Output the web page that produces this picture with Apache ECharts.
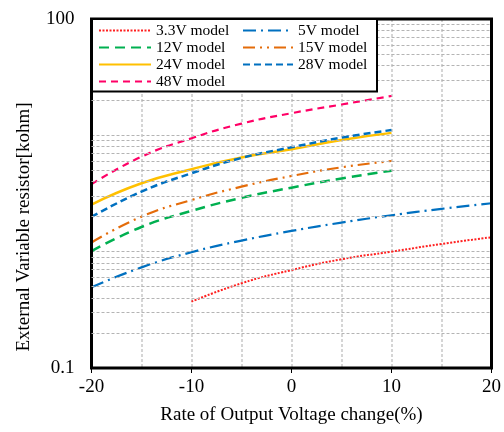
<!DOCTYPE html>
<html>
<head>
<meta charset="utf-8">
<script src="https://cdn.jsdelivr.net/npm/echarts@6/dist/echarts.min.js"></script>
<style>html,body{margin:0;padding:0;background:#fff}#c{width:504px;height:432px}</style>
</head>
<body>
<div id="c"></div>
<script>
// ---- data ----
const xFull = [-20, -15, -10, -5, 0, 5, 10];
const xWide = [-20, -15, -10, -5, 0, 5, 10, 15, 20];
const x33 = [-10, -5, 0, 5, 10, 15, 20];
const v33 = [0.372, 0.535, 0.695, 0.860, 1.0, 1.165, 1.33];
const v5 = [0.494, 0.733, 0.989, 1.245, 1.507, 1.778, 2.056, 2.333, 2.606];
const v12 = [1.01, 1.63, 2.24, 2.90, 3.55, 4.25, 4.97];
const v15 = [1.20, 2.0, 2.78, 3.62, 4.47, 5.31, 6.02];
const v24 = [2.54, 3.87, 5.11, 6.45, 7.59, 9.12, 10.5];
const v28 = [1.99, 3.28, 4.72, 6.39, 7.89, 9.55, 11.1];
const v48 = [3.80, 6.55, 9.44, 12.6, 15.5, 18.4, 21.8];
const legendCol1 = ['3.3V model','12V model','24V model','48V model'];
const legendCol2 = ['5V model','15V model','28V model'];
const xTicks = [-20, -10, 0, 10, 20];
const yTickLabels = [0.1, 100];
const minorGrid = [0.2,0.3,0.4,0.5,0.6,0.7,0.8,0.9,2,3,4,5,6,7,8,9,20,30,40,50,60,70,80,90];

const pair = (xs, ys) => xs.map((x, i) => [x, ys[i]]);
const FONT = "'Liberation Serif','Times New Roman',serif";

function lineSeries(name, data, color, type, width) {
  return {
    name, type: 'line', data, smooth: 0.5, symbol: 'none', showSymbol: false,
    lineStyle: { color, type, width, cap: 'butt' }, itemStyle: { color },
    emphasis: { disabled: true }, z: 3
  };
}

const chart = echarts.init(document.getElementById('c'));
const legendCommon = {
  orient: 'vertical', itemWidth: 52, itemHeight: 10, itemGap: 0, padding: 0, z: 20,
  selectedMode: false,
  itemStyle: { opacity: 0 },
  textStyle: { fontFamily: FONT, fontSize: 15.5, color: '#000', lineHeight: 17 }
};
chart.setOption({
  animation: false,
  backgroundColor: '#fff',
  grid: { left: 91.5, right: 6.5, top: 19, bottom: 64, show: true, borderColor: '#000', borderWidth: 3, backgroundColor: 'transparent', z: 5 },
  legend: [
    Object.assign({}, legendCommon, { data: legendCol1, left: 98, top: 22 }),
    Object.assign({}, legendCommon, { data: legendCol2, left: 242, top: 22, itemWidth: 50 })
  ],
  graphic: [
    { type: 'rect', z: 10, shape: { x: 92, y: 19, width: 285, height: 72.5 }, style: { fill: '#fff', stroke: '#000', lineWidth: 2 } },
    { type: 'text', z: 10, x: 24, y: 227, rotation: Math.PI / 2,
      style: { text: 'External Variable resistor[kohm]', fontFamily: FONT, fontSize: 19, fill: '#000', align: 'center', verticalAlign: 'middle' } }
  ],
  xAxis: {
    type: 'value', min: -20, max: 20, interval: 10,
    name: 'Rate of Output Voltage change(%)', nameLocation: 'middle', nameGap: 38,
    nameTextStyle: { fontFamily: FONT, fontSize: 19, color: '#000' },
    axisLine: { show: false },
    axisTick: { show: true, length: 5, lineStyle: { color: '#000', width: 1 } },
    axisLabel: { margin: 10, fontFamily: FONT, fontSize: 19, color: '#000',
      formatter: v => xTicks.includes(v) ? String(v) : '' },
    splitLine: { show: true, lineStyle: { color: '#c8c8c8', type: [3, 2], width: 1.5 } },
    minorTick: { show: false, splitNumber: 2 },
    minorSplitLine: { show: true, lineStyle: { color: '#c8c8c8', type: [3, 2], width: 1.5 } }
  },
  yAxis: {
    type: 'log', logBase: 10, min: 0.1, max: 100,
    axisLine: { show: false },
    axisTick: { show: false },
    axisLabel: { margin: 17, fontFamily: FONT, fontSize: 19, color: '#000',
      formatter: v => {
        for (const t of yTickLabels) { if (Math.abs(v - t) / t < 1e-6) return String(t); }
        return '';
      } },
    splitLine: { show: true, lineStyle: { color: '#b4b4b4', type: [3, 2], width: 1 } }
  },
  series: [
    {
      name: 'grid', type: 'line', data: [[-20, 1]], symbol: 'none', lineStyle: { opacity: 0 }, z: 1,
      markLine: {
        silent: true, symbol: ['none', 'none'], animation: false,
        label: { show: false },
        lineStyle: { color: '#b4b4b4', type: [3, 2], width: 1 },
        emphasis: { disabled: true },
        data: minorGrid.map(v => ({ yAxis: v }))
      }
    },
    lineSeries('3.3V model', pair(x33, v33), '#ff2020', [2, 1.5], 2),
    lineSeries('5V model', pair(xWide, v5), '#0070c0', [13, 5, 2, 5], 2.2),
    lineSeries('12V model', pair(xFull, v12), '#00b050', [10, 6], 2.5),
    lineSeries('15V model', pair(xFull, v15), '#e46c0a', [12, 5, 2, 5, 2, 5], 2.2),
    lineSeries('24V model', pair(xFull, v24), '#ffc000', 'solid', 2.5),
    lineSeries('28V model', pair(xFull, v28), '#0070c0', [7, 4], 2.5),
    lineSeries('48V model', pair(xFull, v48), '#ff0066', [7, 5], 2.2)
  ]
});
</script>
</body>
</html>
